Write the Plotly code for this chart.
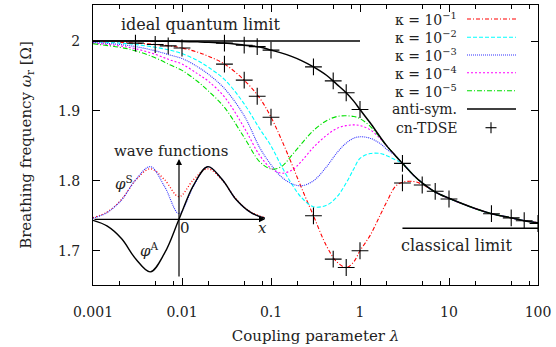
import plotly.graph_objects as go

# ---------------- data ----------------
lam = [0.001, 0.002, 0.003, 0.005, 0.0073, 0.01, 0.015, 0.02, 0.03, 0.05,
       0.075, 0.1, 0.13, 0.17, 0.22, 0.3, 0.42, 0.55, 0.7, 0.85,
       1.0, 1.3, 1.7, 2.0, 2.5, 3, 4, 5, 7, 10,
       20, 30, 50, 70, 100]

anti_sym = [2.0, 2.0, 1.9999, 1.9998, 1.9996, 1.9993, 1.9988, 1.9983, 1.997, 1.994,
            1.9915, 1.987, 1.983, 1.978, 1.972, 1.963, 1.951, 1.938, 1.926, 1.914,
            1.902, 1.883, 1.862, 1.850, 1.836, 1.825, 1.808, 1.797, 1.784, 1.775,
            1.760, 1.753, 1.747, 1.743, 1.740]

kappa_1 = [1.9995, 1.998, 1.997, 1.995, 1.993, 1.99, 1.984, 1.978, 1.967, 1.944,
           1.918, 1.891, 1.86, 1.825, 1.79, 1.75, 1.707, 1.684, 1.676, 1.684,
           1.70, 1.722, 1.752, 1.770, 1.792, 1.798, 1.799, 1.795, 1.784, 1.775,
           1.760, 1.753, 1.747, 1.743, 1.740]

kappa_2 = [1.999, 1.997, 1.995, 1.991, 1.987, 1.982, 1.972, 1.962, 1.945, 1.91,
           1.874, 1.85, 1.822, 1.796, 1.776, 1.763, 1.765, 1.777, 1.797, 1.817,
           1.832, 1.839, 1.839, 1.836, 1.830, 1.825, 1.808, 1.797, 1.784, 1.775,
           1.760, 1.753, 1.747, 1.743, 1.740]

kappa_3 = [1.998, 1.995, 1.992, 1.986, 1.980, 1.975, 1.963, 1.952, 1.932, 1.893,
           1.847, 1.823, 1.806, 1.796, 1.793, 1.80, 1.82, 1.84, 1.854, 1.861,
           1.863, 1.861, 1.853, 1.845, 1.836, 1.825, 1.808, 1.797, 1.784, 1.775,
           1.760, 1.753, 1.747, 1.743, 1.740]

kappa_4 = [1.997, 1.993, 1.989, 1.981, 1.973, 1.967, 1.953, 1.942, 1.92, 1.876,
           1.836, 1.818, 1.811, 1.815, 1.828, 1.848, 1.865, 1.875, 1.879, 1.880,
           1.879, 1.873, 1.860, 1.850, 1.836, 1.825, 1.808, 1.797, 1.784, 1.775,
           1.760, 1.753, 1.747, 1.743, 1.740]

kappa_5 = [1.996, 1.991, 1.986, 1.976, 1.966, 1.958, 1.942, 1.928, 1.905, 1.862,
           1.827, 1.817, 1.82, 1.836, 1.853, 1.872, 1.886, 1.892, 1.893, 1.892,
           1.889, 1.878, 1.861, 1.850, 1.836, 1.825, 1.808, 1.797, 1.784, 1.775,
           1.760, 1.753, 1.747, 1.743, 1.740]

tdse_lam_k1 = [0.003, 0.005, 0.007, 0.01, 0.03, 0.05, 0.07, 0.1, 0.3, 0.5,
               0.7, 1, 3, 5, 7, 10, 30, 50, 70, 100]
tdse_k1 = [1.997, 1.995, 1.993, 1.99, 1.967, 1.944, 1.921, 1.891, 1.75, 1.688,
           1.676, 1.70, 1.797, 1.794, 1.785, 1.774, 1.753, 1.747, 1.743, 1.739]

tdse_lam_as = [0.03, 0.05, 0.07, 0.1, 0.3, 0.5, 0.7, 1, 3]
tdse_as = [1.997, 1.994, 1.992, 1.987, 1.963, 1.943, 1.926, 1.902, 1.825]

quantum_lam = [0.001, 1]
quantum_val = [2.0, 2.0]
classical_lam = [3, 100]
classical_val = [1.732, 1.732]

# inset wave functions
wf_x = [-3, -2.5, -2, -1.5, -1, -0.5, 0, 0.5, 1, 1.5, 2, 2.5, 3]
phi_A = [-0.02, -0.13, -0.37, -0.76, -1.0, -0.64, 0.0, 0.64, 1.0, 0.76, 0.37, 0.13, 0.02]
phi_S_blue = [0.02, 0.13, 0.37, 0.76, 1.0, 0.62, 0.11, 0.62, 1.0, 0.76, 0.37, 0.13, 0.02]
phi_S_red = [0.03, 0.14, 0.38, 0.75, 0.96, 0.75, 0.43, 0.75, 0.96, 0.75, 0.38, 0.14, 0.03]

x_tickvals = [0.001, 0.01, 0.1, 1, 10, 100]
x_ticktext = ["0.001", "0.01", "0.1", "1", "10", "100"]
x_minor = [2e-3, 5e-3, 8e-3, 2e-2, 5e-2, 8e-2, 2e-1, 5e-1, 8e-1, 2, 5, 8, 20, 50, 80]
y_tickvals = [1.7, 1.8, 1.9, 2.0]
y_ticktext = ["1.7", "1.8", "1.9", "2"]

FONT = "DejaVu Serif"
TXT = "#222"

curves = [
    ("κ = 10<sup>−1</sup>", kappa_1, "#ff0000", "4px,2px,1px,2px"),
    ("κ = 10<sup>−2</sup>", kappa_2, "#00ffff", "4px,2px"),
    ("κ = 10<sup>−3</sup>", kappa_3, "#3030ff", "1px,1px"),
    ("κ = 10<sup>−4</sup>", kappa_4, "#ff00ff", "2px,2px"),
    ("κ = 10<sup>−5</sup>", kappa_5, "#00e000", "5px,2px,1px,2px"),
]

fig = go.Figure()

# reference limit lines
fig.add_trace(go.Scatter(x=quantum_lam, y=quantum_val, mode="lines",
                         line=dict(color="black", width=1.5), showlegend=False))
fig.add_trace(go.Scatter(x=classical_lam, y=classical_val, mode="lines",
                         line=dict(color="black", width=1.5), showlegend=False))

for name, vals, col, dash in curves:
    fig.add_trace(go.Scatter(x=lam, y=vals, mode="lines", name=name,
                             line=dict(color=col, width=1.1, dash=dash, shape="spline"),
                             showlegend=False))

fig.add_trace(go.Scatter(x=lam, y=anti_sym, mode="lines", name="anti-sym.",
                         line=dict(color="black", width=1.5, shape="spline"), showlegend=False))

for xs, ys in [(tdse_lam_k1, tdse_k1), (tdse_lam_as, tdse_as)]:
    fig.add_trace(go.Scatter(x=xs, y=ys, mode="markers", name="cn-TDSE",
                             marker=dict(symbol="cross-thin", size=12,
                                         line=dict(color="black", width=1.1)),
                             showlegend=False))

# inset
fig.add_trace(go.Scatter(x=wf_x, y=phi_S_red, mode="lines", xaxis="x2", yaxis="y2",
                         line=dict(color="#ff0000", width=1.3, dash="1px,2px", shape="spline"),
                         showlegend=False))
fig.add_trace(go.Scatter(x=wf_x, y=phi_S_blue, mode="lines", xaxis="x2", yaxis="y2",
                         line=dict(color="#3030ff", width=1.1, dash="1px,1px", shape="spline"),
                         showlegend=False))
fig.add_trace(go.Scatter(x=wf_x, y=phi_A, mode="lines", xaxis="x2", yaxis="y2",
                         line=dict(color="black", width=1.4, shape="spline"),
                         showlegend=False))

L, R, T, B = 93, 18, 5, 62
W, H = 556, 347
PW, PH = W - L - R, H - T - B


def px(xp):
    return (xp - L) / PW


def py(yp):
    return (H - B - yp) / PH


annotations = []
shapes = []


def txt(x, y, text, size=15, xanchor="center"):
    annotations.append(dict(x=px(x), y=py(y), xref="paper", yref="paper", text=text,
                            xanchor=xanchor, yanchor="middle",
                            showarrow=False, font=dict(family=FONT, size=size, color=TXT)))


txt(200, 25, "ideal quantum limit", size=16)
txt(456, 245, "classical limit", size=16)
txt(171, 151, "wave functions")
txt(124, 183, "<i>φ</i><sup>S</sup>")
txt(149, 250, "<i>φ</i><sup>A</sup>")
txt(185, 228, "0")
txt(262, 228, "<i>x</i>")

# inset arrows
annotations.append(dict(x=3, y=0, ax=-3, ay=0, xref="x2", yref="y2", axref="x2", ayref="y2",
                        showarrow=True, arrowhead=2, arrowsize=1, arrowwidth=1.2, arrowcolor="black", text=""))
annotations.append(dict(x=0, y=1.146, ax=0, ay=-1.116, xref="x2", yref="y2", axref="x2", ayref="y2",
                        showarrow=True, arrowhead=2, arrowsize=1, arrowwidth=1.2, arrowcolor="black", text=""))

# manual legend (text left, sample right)
leg_rows = [19, 37.3, 55, 72.7, 90.7, 109, 127.7]
leg_items = [(c[0], c[2], c[3]) for c in curves] + [("anti-sym.", "black", "solid"), ("cn-TDSE", None, None)]
for yrow, (t, col, dash) in zip(leg_rows, leg_items):
    txt(459, yrow, t, size=14, xanchor="right")
    if col is not None:
        shapes.append(dict(type="line", xref="paper", yref="paper",
                           x0=px(467), x1=px(516), y0=py(yrow), y1=py(yrow),
                           line=dict(color=col, width=1.3 if col == "black" else 1.1, dash=dash)))
    else:
        shapes.append(dict(type="line", xref="paper", yref="paper",
                           x0=px(485.5), x1=px(496.5), y0=py(yrow), y1=py(yrow),
                           line=dict(color="black", width=1.1)))
        shapes.append(dict(type="line", xref="paper", yref="paper",
                           x0=px(491), x1=px(491), y0=py(yrow - 5.5), y1=py(yrow + 5.5),
                           line=dict(color="black", width=1.1)))

axis_common = dict(showline=True, linecolor="black", linewidth=1, mirror="ticks",
                   ticks="inside", ticklen=7, tickcolor="black", tickwidth=1,
                   showgrid=False, zeroline=False, automargin=False,
                   tickfont=dict(family=FONT, size=14, color=TXT))

fig.update_layout(
    width=W, height=H,
    margin=dict(l=L, r=R, t=T, b=B, autoexpand=False),
    paper_bgcolor="white", plot_bgcolor="rgba(0,0,0,0)",
    showlegend=False,
    xaxis=dict(type="log", range=[-3, 2], tickvals=x_tickvals, ticktext=x_ticktext,
               minor=dict(ticks="inside", ticklen=4, tickvals=x_minor, tickcolor="black"),
               title=dict(text="Coupling parameter <i>λ</i>", standoff=11,
                          font=dict(family=FONT, size=15, color=TXT)),
               ticklabelstandoff=14,
               **axis_common),
    yaxis=dict(range=[1.651, 2.0515], tickvals=y_tickvals, ticktext=y_ticktext,
               title=dict(text="Breathing frequency <i>ω</i><sub>r</sub> [Ω]", standoff=22,
                          font=dict(family=FONT, size=15, color=TXT)),
               ticklabelstandoff=9,
               **axis_common),
    xaxis2=dict(domain=[0, px(265)], anchor="y2", range=[-3, 3], visible=False),
    yaxis2=dict(domain=[py(278), py(159)], anchor="x2", range=[-1.116, 1.146], visible=False),
    annotations=annotations,
    shapes=shapes,
)

fig.write_html("out.html", config={"displayModeBar": False},
               post_script="document.body.style.margin='0';document.body.style.overflow='hidden';")
